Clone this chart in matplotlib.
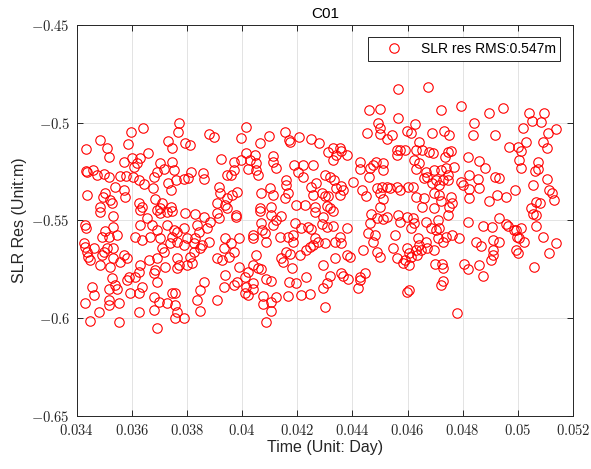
import numpy as np
import matplotlib
matplotlib.use('Agg')
import matplotlib.pyplot as plt
from matplotlib.ticker import FuncFormatter

plt.rcParams['font.family'] = 'Liberation Sans'
plt.rcParams['mathtext.fontset'] = 'cm'

# residuals, grouped by region (left / middle / right, upper / lower)
t_a = [0.03433, 0.03485, 0.03511, 0.03515, 0.03584, 0.03596, 0.0364, 0.03658, 0.0373, 0.03745,
       0.0377, 0.03766, 0.03794, 0.03812, 0.03879, 0.03899, 0.03924, 0.0397, 0.03994, 0.03994,
       0.03434, 0.03436, 0.0346, 0.03473, 0.03497, 0.03515, 0.03555, 0.0357, 0.03579, 0.0360,
       0.03608, 0.0362, 0.0363, 0.03604, 0.03624, 0.03642, 0.03676, 0.03681, 0.03691, 0.03701,
       0.03715, 0.0373, 0.03745, 0.03752, 0.03761, 0.03742, 0.03788, 0.03804, 0.03816, 0.03858,
       0.0386, 0.03915, 0.03945, 0.03958, 0.0397,
       0.03436, 0.03495, 0.03521, 0.03503, 0.03539, 0.0357, 0.03576, 0.03485, 0.03527, 0.03624,
       0.03636, 0.03685, 0.03709, 0.03703, 0.0374, 0.03921, 0.03945, 0.03964, 0.03982, 0.03909,
       0.03939]
r_a = [-0.5136, -0.5090, -0.5131, -0.5174, -0.5109, -0.5046, -0.5029, -0.5154, -0.5096, -0.5131,
       -0.5003, -0.5046, -0.5106, -0.5116, -0.5058, -0.5072, -0.5188, -0.5200, -0.5190, -0.5080,
       -0.5246, -0.5253, -0.5242, -0.5268, -0.5264, -0.5280, -0.5273, -0.5200, -0.5273, -0.5183,
       -0.5225, -0.5205, -0.5183, -0.5276, -0.5293, -0.5314, -0.5333, -0.5276, -0.5250, -0.5208,
       -0.5239, -0.5310, -0.5200, -0.5242, -0.5293, -0.5345, -0.5290, -0.5285, -0.5250, -0.5259,
       -0.5290, -0.5328, -0.5268, -0.5268, -0.5242,
       -0.5370, -0.5379, -0.5396, -0.5358, -0.5328, -0.5345, -0.5379, -0.5430, -0.5413, -0.5413,
       -0.5433, -0.5392, -0.5413, -0.5438, -0.5430, -0.5362, -0.5387, -0.5370, -0.5353, -0.5413,
       -0.5421]

t_d = [0.03485, 0.03533, 0.0363, 0.03655, 0.03691, 0.03703, 0.03727, 0.03745, 0.03794, 0.0383,
       0.0386, 0.03909, 0.03945, 0.03976,
       0.0343, 0.03434, 0.03503, 0.03533, 0.03545, 0.03491, 0.03515, 0.03427, 0.0343, 0.03436,
       0.03442, 0.03448, 0.03461, 0.03491, 0.03497, 0.03509, 0.03533, 0.03533, 0.03485, 0.03521,
       0.0357, 0.03582, 0.03558,
       0.03612, 0.0363, 0.03636, 0.03667, 0.03673, 0.03691, 0.03703, 0.03709, 0.03727, 0.03752,
       0.03764, 0.03788, 0.03739, 0.03764, 0.03745, 0.038, 0.0383, 0.03842, 0.03855, 0.03879,
       0.03661, 0.03691, 0.03715, 0.03721, 0.0363, 0.03624, 0.03612, 0.03588, 0.03582, 0.03594,
       0.03636, 0.03624, 0.03539, 0.03527, 0.03545, 0.03455, 0.03461, 0.0343, 0.03515, 0.03515,
       0.03515, 0.03552, 0.03479, 0.03448, 0.03552,
       0.03624, 0.03679, 0.03697, 0.03679, 0.03691, 0.03679, 0.03685, 0.03691, 0.03727, 0.03745,
       0.03758, 0.03758, 0.03764, 0.03788, 0.03758,
       0.03764, 0.0377, 0.03764, 0.038, 0.03812, 0.03818, 0.03788, 0.03824, 0.03824, 0.03848,
       0.0386, 0.03848, 0.03836, 0.03848, 0.03907,
       0.03909, 0.03927, 0.03952, 0.0397, 0.03988, 0.03939, 0.03933, 0.0397, 0.03982, 0.03939,
       0.03933, 0.03958, 0.03988, 0.03836, 0.03873, 0.03885, 0.03915, 0.03976]
r_d = [-0.5456, -0.5476, -0.5447, -0.5486, -0.5447, -0.5464, -0.5456, -0.5453, -0.5464, -0.5469,
       -0.5481, -0.5464, -0.5439, -0.5481,
       -0.5524, -0.5537, -0.5555, -0.5532, -0.5575, -0.5584, -0.5584, -0.5618, -0.5635, -0.5660,
       -0.5686, -0.5703, -0.5643, -0.5677, -0.5660, -0.5643, -0.5643, -0.5694, -0.5729, -0.5737,
       -0.5677, -0.5694, -0.5711,
       -0.5584, -0.5524, -0.5601, -0.5584, -0.5524, -0.5550, -0.5592, -0.5643, -0.5524, -0.5550,
       -0.5558, -0.5541, -0.5618, -0.5609, -0.5584, -0.5592, -0.5592, -0.5558, -0.5626, -0.5609,
       -0.5703, -0.5694, -0.5660, -0.5737, -0.5729, -0.5763, -0.5788, -0.5788, -0.5805, -0.5874,
       -0.5840, -0.5874, -0.5831, -0.5797, -0.5851, -0.5840, -0.5882, -0.5925, -0.5849, -0.5908,
       -0.5933, -0.5925, -0.5967, -0.6015, -0.6022,
       -0.5967, -0.5959, -0.5916, -0.5890, -0.5814, -0.5771, -0.5754, -0.6049, -0.5925, -0.5874,
       -0.5874, -0.5933, -0.5967, -0.6002, -0.5998,
       -0.5694, -0.5729, -0.5746, -0.5729, -0.5686, -0.5720, -0.5626, -0.5660, -0.5618, -0.5643,
       -0.5814, -0.5857, -0.5908, -0.5964, -0.5908,
       -0.5694, -0.5703, -0.5686, -0.5660, -0.5737, -0.5780, -0.5840, -0.5831, -0.5814, -0.5592,
       -0.5643, -0.5618, -0.5592, -0.5524, -0.5541, -0.5507, -0.5490, -0.5473]

t_b = [0.04566, 0.04461, 0.04500, 0.04566, 0.04494, 0.04500, 0.04454, 0.04500, 0.04524, 0.04542,
       0.04597, 0.04013, 0.04154, 0.04097, 0.04063, 0.0417, 0.04175, 0.04206, 0.04248, 0.0428,
       0.04312, 0.04328, 0.04354, 0.0436, 0.04381, 0.04342, 0.0433, 0.0456, 0.04573, 0.04591,
       0.0456, 0.04015, 0.04027, 0.04045, 0.04051, 0.04021, 0.04051, 0.04057,
       0.0411, 0.0411, 0.04124, 0.04187, 0.04219, 0.04203, 0.04219, 0.04257, 0.04427, 0.04427,
       0.04463, 0.04473, 0.04485, 0.04512, 0.04512, 0.04461,
       0.04300, 0.0432, 0.04333, 0.0436, 0.04366, 0.04403, 0.04342, 0.04354, 0.0416, 0.0416,
       0.04166, 0.04154, 0.04269, 0.04251, 0.04257, 0.04288, 0.043, 0.04312, 0.0407, 0.041,
       0.04112,
       0.04433, 0.04451, 0.04488, 0.04506, 0.045, 0.04524, 0.04536, 0.0456, 0.04573, 0.04603,
       0.04512, 0.045, 0.04197, 0.04227, 0.04263, 0.04306, 0.04318, 0.04106, 0.04063]
r_b = [-0.4829, -0.4935, -0.4930, -0.4974, -0.5000, -0.5029, -0.5051, -0.5058, -0.5085, -0.5063,
       -0.5041, -0.5020, -0.5046, -0.5068, -0.5106, -0.5089, -0.5099, -0.5075, -0.5085, -0.5106,
       -0.5148, -0.5131, -0.5131, -0.5143, -0.5165, -0.5165, -0.5191, -0.5140, -0.5140, -0.5140,
       -0.5165, -0.5157, -0.5191, -0.5165, -0.5208, -0.5239, -0.5242, -0.5268,
       -0.5171, -0.5200, -0.5234, -0.5217, -0.5217, -0.5251, -0.5280, -0.5217, -0.5200, -0.5239,
       -0.5234, -0.5217, -0.5200, -0.5208, -0.5242, -0.5276,
       -0.5268, -0.5276, -0.5293, -0.5324, -0.5345, -0.5302, -0.5336, -0.5370, -0.5293, -0.5319,
       -0.5362, -0.5387, -0.5310, -0.5328, -0.5370, -0.5358, -0.5375, -0.5375, -0.5362, -0.5336,
       -0.5370,
       -0.5345, -0.5375, -0.5336, -0.5328, -0.5362, -0.5328, -0.5336, -0.5328, -0.5345, -0.5328,
       -0.5390, -0.5433, -0.5421, -0.5421, -0.5430, -0.5426, -0.5438, -0.5430, -0.5438]

t_e = [0.04063, 0.04106, 0.04142, 0.04263, 0.0433, 0.04469, 0.04488, 0.04512, 0.04524, 0.04566,
       0.04597, 0.04573, 0.04463,
       0.0407, 0.04073, 0.04112, 0.04124, 0.04191, 0.04294, 0.04288, 0.04306, 0.0433, 0.04379,
       0.04039, 0.04039, 0.04082, 0.04088, 0.04136, 0.04166, 0.04185,
       0.04215, 0.04239, 0.04251, 0.04263, 0.04257, 0.04245, 0.04275, 0.043, 0.04185, 0.0416,
       0.04173, 0.04142, 0.04148, 0.0421, 0.04233,
       0.04336, 0.0436, 0.04354, 0.0444, 0.04379, 0.04391, 0.04336, 0.04294, 0.04051, 0.04039,
       0.04057, 0.0407, 0.04021, 0.04009,
       0.04179, 0.04233, 0.04197, 0.0417, 0.04088, 0.04106, 0.04039, 0.04039, 0.04015, 0.04021,
       0.04009,
       0.04076, 0.04124, 0.04166, 0.04215, 0.04245, 0.04294, 0.04306, 0.04318, 0.04076, 0.04106,
       0.04106, 0.04088, 0.043,
       0.0436, 0.04366, 0.04385, 0.04427, 0.04427, 0.04445, 0.04421,
       0.04457, 0.04482, 0.04476, 0.04488, 0.045, 0.04554, 0.04548, 0.0456, 0.04591, 0.04597,
       0.04585, 0.04597]
r_e = [-0.5452, -0.5473, -0.5476, -0.5456, -0.5452, -0.5469, -0.5490, -0.5493, -0.5481, -0.5473,
       -0.5481, -0.5507, -0.5515,
       -0.5515, -0.5549, -0.5524, -0.5498, -0.5515, -0.5481, -0.5520, -0.5532, -0.5527, -0.5541,
       -0.5575, -0.5592, -0.5567, -0.5609, -0.5584, -0.5584, -0.5575,
       -0.5541, -0.5536, -0.5546, -0.5592, -0.5626, -0.5635, -0.5609, -0.5618, -0.5609, -0.5660,
       -0.5674, -0.5694, -0.5711, -0.5677, -0.5652,
       -0.5609, -0.5618, -0.5584, -0.5652, -0.5677, -0.5686, -0.5694, -0.5729, -0.5677, -0.5729,
       -0.5746, -0.5749, -0.5763, -0.5788,
       -0.5746, -0.5788, -0.5823, -0.5817, -0.5802, -0.5812, -0.5823, -0.5849, -0.5840, -0.5883,
       -0.5874,
       -0.5886, -0.5891, -0.5886, -0.5882, -0.5879, -0.5848, -0.5823, -0.5783, -0.5930, -0.5916,
       -0.5964, -0.6022, -0.5942,
       -0.5771, -0.5783, -0.5800, -0.5788, -0.5805, -0.5771, -0.5848,
       -0.5567, -0.5575, -0.5613, -0.5660, -0.5686, -0.5575, -0.5640, -0.5694, -0.5703, -0.5643,
       -0.5720, -0.5865]

t_c = [0.04676, 0.04721, 0.04793, 0.04894, 0.04947, 0.05039, 0.05052, 0.05085, 0.05094, 0.05018,
       0.05139, 0.05109, 0.05091, 0.05105,
       0.04627, 0.04612, 0.04642, 0.0463, 0.04688, 0.04733, 0.04749, 0.04842, 0.04836, 0.04916,
       0.04969, 0.05, 0.05012, 0.0503, 0.05006, 0.05012, 0.05072, 0.05072, 0.05064, 0.05105,
       0.04818, 0.04858, 0.04882, 0.04918, 0.0493, 0.04824, 0.04854, 0.04861, 0.04824, 0.04793,
       0.048,
       0.04654, 0.04678, 0.04693, 0.04745, 0.04757, 0.04736, 0.04769, 0.04739, 0.04721, 0.04727,
       0.04745,
       0.04624, 0.04642, 0.0463, 0.04666, 0.04696, 0.04672, 0.0466, 0.0469, 0.04703, 0.04715,
       0.04745,
       0.04618, 0.0463, 0.0466, 0.04696, 0.04715, 0.04757, 0.04763, 0.04721, 0.04824, 0.04896,
       0.04923, 0.04957, 0.04991, 0.05054, 0.05115, 0.05124, 0.05133, 0.05066, 0.05079, 0.05048,
       0.04654, 0.04696, 0.0475]
r_c = [-0.4819, -0.4935, -0.4915, -0.4952, -0.4926, -0.4952, -0.4990, -0.4995, -0.4949, -0.5026,
       -0.5032, -0.5055, -0.5097, -0.5131,
       -0.5007, -0.5055, -0.5097, -0.5140, -0.5055, -0.5041, -0.5063, -0.5000, -0.5063, -0.5063,
       -0.5123, -0.5123, -0.5143, -0.5097, -0.5191, -0.5234, -0.5200, -0.5239, -0.5246, -0.5290,
       -0.5177, -0.5196, -0.5234, -0.5276, -0.5281, -0.5268, -0.5290, -0.5336, -0.5341, -0.5302,
       -0.5319,
       -0.5140, -0.5148, -0.5157, -0.5148, -0.5143, -0.5177, -0.5228, -0.5234, -0.5242, -0.5293,
       -0.5293,
       -0.5191, -0.5208, -0.5239, -0.5251, -0.5242, -0.5276, -0.5285, -0.5310, -0.5293, -0.5319,
       -0.5268,
       -0.5328, -0.5379, -0.5387, -0.5358, -0.5370, -0.5379, -0.5413, -0.5399, -0.5387, -0.5399,
       -0.5370, -0.5379, -0.5345, -0.5319, -0.5345, -0.5358, -0.5396, -0.5404, -0.5409, -0.5438,
       -0.5430, -0.5438, -0.5433]

t_f = [0.05054, 0.05066, 0.04618, 0.04624, 0.04612, 0.04666, 0.04709, 0.04684, 0.04715, 0.04703,
       0.04745, 0.04818,
       0.04872, 0.04906, 0.04933, 0.04957, 0.04963, 0.04987, 0.05012, 0.05066, 0.0509, 0.05139,
       0.05115, 0.0506,
       0.04639, 0.04642, 0.0463, 0.04648, 0.04672, 0.04696, 0.04666, 0.04709, 0.04739, 0.04761,
       0.04785, 0.04727,
       0.04606, 0.04612, 0.04606, 0.04636,
       0.047, 0.04724, 0.04727, 0.04806, 0.04818, 0.0486, 0.04872, 0.0485, 0.04866, 0.04909,
       0.04933, 0.04909, 0.04909, 0.04903, 0.04994, 0.04997, 0.05003, 0.04994, 0.05, 0.05024,
       0.04727, 0.04721, 0.04606, 0.04779]
r_f = [-0.5469, -0.5473, -0.5490, -0.5515, -0.5541, -0.5507, -0.5498, -0.5541, -0.5537, -0.5549,
       -0.5473, -0.5507,
       -0.5527, -0.5532, -0.5486, -0.5521, -0.5527, -0.5550, -0.5538, -0.5527, -0.5584, -0.5618,
       -0.5669, -0.5737,
       -0.5592, -0.5626, -0.5652, -0.5652, -0.5643, -0.5652, -0.5609, -0.5592, -0.5584, -0.5575,
       -0.5592, -0.5609,
       -0.5669, -0.5686, -0.5729, -0.5677,
       -0.5725, -0.5725, -0.5746, -0.5725, -0.5749, -0.5729, -0.5783, -0.5613, -0.5630, -0.5601,
       -0.5609, -0.5652, -0.5677, -0.5703, -0.5550, -0.5584, -0.5592, -0.5652, -0.5669, -0.5609,
       -0.5811, -0.5831, -0.5857, -0.5976]

sat = 'C01'
rms = 0.547

t = np.concatenate([t_a, t_d, t_b, t_e, t_c, t_f])
res = np.concatenate([r_a, r_d, r_b, r_e, r_c, r_f])

dark = '#262626'
fig = plt.figure(figsize=(5.91, 4.69), dpi=100)
ax = fig.add_axes([0.130, 0.1137, 0.8394, 0.8330])

ax.plot(t, res, 'o', ls='none', mfc='none', mec='red', mew=0.8, ms=6.8,
        label='SLR res RMS:%.3fm' % rms)

ax.set_xlim(0.034, 0.052)
ax.set_ylim(-0.65, -0.45)
ax.set_xticks(np.arange(0.034, 0.0521, 0.002))
ax.set_yticks([-0.65, -0.6, -0.55, -0.5, -0.45])
fmt = FuncFormatter(lambda v, p: '$%g$' % round(v, 4))
ax.xaxis.set_major_formatter(fmt)
ax.yaxis.set_major_formatter(fmt)

ax.grid(True, color='#dedede', lw=0.6)
ax.set_axisbelow(True)
ax.tick_params(direction='in', top=True, right=True, length=4, width=0.7,
               colors=dark, labelsize=10.5)
ax.tick_params(axis='x', pad=5)
ax.tick_params(axis='y', pad=5)
for s in ax.spines.values():
    s.set_color(dark)
    s.set_linewidth(0.7)

ax.set_title(sat, fontsize=11, color='black', pad=5)
ax.set_xlabel('Time (Unit: Day)', fontsize=11.5, color=dark, labelpad=2)
ax.set_ylabel('SLR Res (Unit:m)', fontsize=11.5, color=dark, labelpad=3)

leg = ax.legend(loc='upper right', fontsize=10, fancybox=False, framealpha=1,
                edgecolor=dark, borderaxespad=0.9, handlelength=3.0,
                handletextpad=0.4, borderpad=0.35)
leg.get_frame().set_linewidth(0.7)

fig.savefig('out.png', dpi=100)
